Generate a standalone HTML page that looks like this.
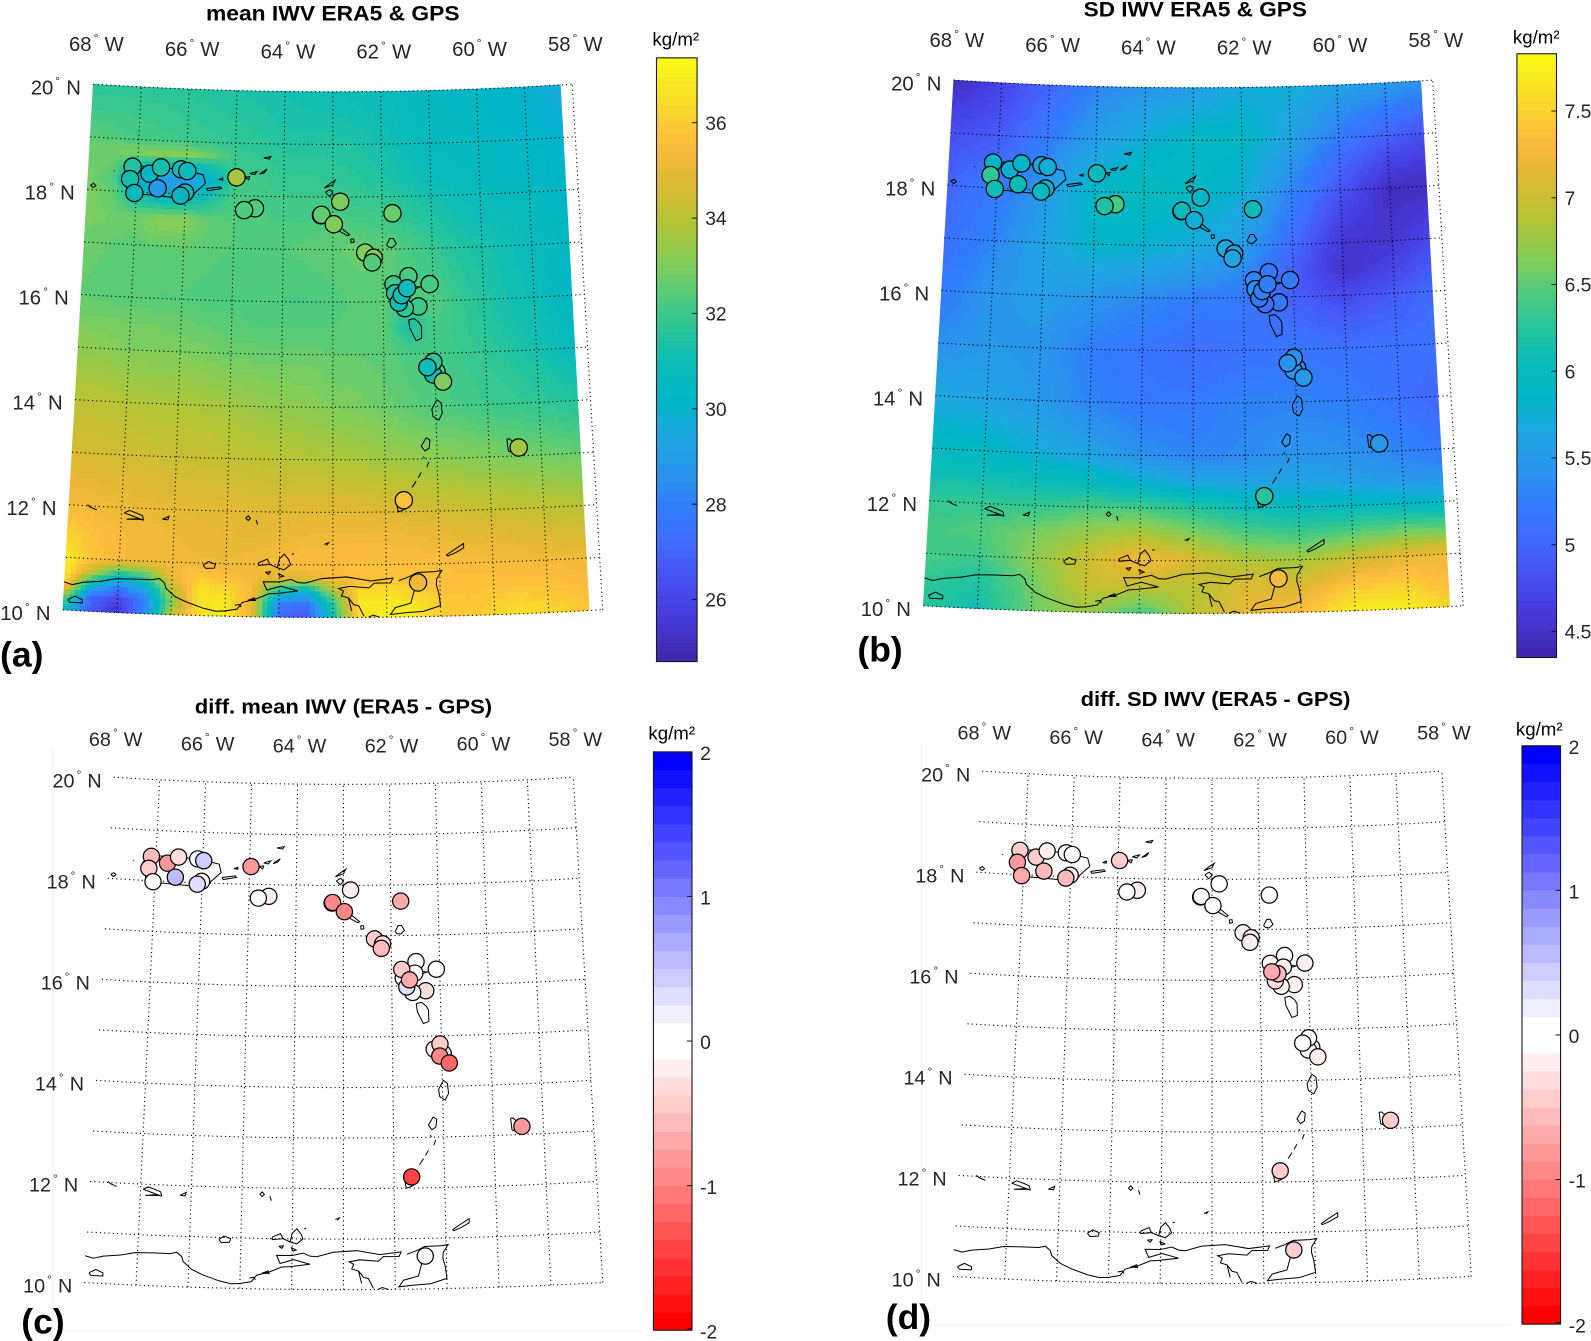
<!DOCTYPE html>
<html lang="en">
<head>
<meta charset="utf-8">
<title>IWV ERA5 and GPS maps</title>
<style>
html,body{margin:0;padding:0;background:#fff;}
svg{display:block;font-family:"Liberation Sans",sans-serif;}
.title{font-weight:bold;fill:#000;text-anchor:middle;}
.letter{font-weight:bold;fill:#000;font-size:35px;}
.tick{fill:#262626;}
</style>
</head>
<body>
<svg id="fig" xmlns="http://www.w3.org/2000/svg" width="1591" height="1341" viewBox="0 0 1591 1341">
<g transform="scale(1.01467)">
  <rect x="0" y="0" width="1568" height="1322" fill="#fff"/>
  <line x1="52" y1="738" x2="52" y2="1312" stroke="#f1f1f1"/>
  <line x1="52" y1="1312" x2="632" y2="1312" stroke="#f1f1f1"/>
  <line x1="908" y1="732" x2="908" y2="1306" stroke="#f1f1f1"/>
  <line x1="908" y1="1306" x2="1488" y2="1306" stroke="#f1f1f1"/>
  <g id="panel-a"></g>
  <g id="panel-b"></g>
  <g id="panel-c"></g>
  <g id="panel-d"></g>
  <text class="title" x="328" y="20" font-size="21" textLength="250" lengthAdjust="spacingAndGlyphs">mean IWV ERA5 &amp; GPS</text>
  <text class="title" x="1178" y="16" font-size="21" textLength="220" lengthAdjust="spacingAndGlyphs">SD IWV ERA5 &amp; GPS</text>
  <text class="title" x="338.5" y="703" font-size="20" textLength="293" lengthAdjust="spacingAndGlyphs">diff. mean IWV (ERA5 - GPS)</text>
  <text class="title" x="1198" y="696" font-size="20" textLength="266" lengthAdjust="spacingAndGlyphs">diff. SD IWV (ERA5 - GPS)</text>
  <text class="letter" x="0" y="657">(a)</text>
  <text class="letter" x="845" y="652">(b)</text>
  <text class="letter" x="21" y="1314">(c)</text>
  <text class="letter" x="873" y="1310">(d)</text>
</g>
</svg>
<script>
// ---------- station data ----------
const stationLon = [-67.10,-67.14,-67.04,-66.75,-66.52,-66.57,-66.11,-65.98,-66.01,-66.10,-64.97,-64.58,-64.80,-62.85,-61.79,-63.24,-63.23,-62.98,-62.35,-62.18,-62.21,-61.49,-61.07,-61.79,-61.76,-61.30,-61.57,-61.69,-61.63,-61.52,-60.97,-61.04,-61.03,-61.15,-60.85,-59.43,-61.65,-61.41];
const stationLat = [18.48,18.24,17.98,18.36,18.49,18.09,18.47,18.44,18.03,17.97,18.35,17.77,17.73,17.91,17.68,17.65,17.66,17.48,16.94,16.84,16.75,16.48,16.32,16.33,16.16,15.90,15.87,15.98,16.12,16.25,14.65,14.60,14.84,14.74,14.46,13.16,12.22,10.65];
const meanIWV    = [31.5,31.2,30.6,30.2,31.2,28.8,31.0,30.8,31.0,30.3,33.7,32.3,32.3,33.0,32.7,32.0,32.6,33.0,33.0,33.2,32.4,32.2,32.2,32.0,31.5,32.0,31.8,31.0,31.2,31.0,32.3,31.0,31.7,30.9,33.0,33.6,35.7,35.2];
const sdIWV      = [5.85,6.3,6.1,5.8,5.85,6.05,5.75,5.75,5.9,5.9,6.05,6.4,6.2,5.85,6.05,6.1,6.0,5.75,5.65,5.65,5.6,5.2,5.2,5.3,5.4,5.2,5.05,5.2,5.25,5.25,5.4,5.4,5.4,5.4,5.5,5.5,6.25,7.25];
const diffMean   = [-0.55,-0.4,0,-0.8,-0.35,0.55,0,0.4,-0.2,0.3,-0.85,-0.2,0,-0.25,-0.65,-1.1,-1.0,-0.9,-0.4,-0.35,-0.6,0,0,-0.4,0,-0.3,0,0.3,-0.75,0,0,-1.0,-0.45,-0.2,-1.15,-0.85,-1.45,0];
const diffSD     = [-0.45,-0.85,-0.65,-0.4,-0.25,-0.6,0,-0.1,-0.25,-0.6,-0.5,-0.25,0,0,-0.12,-0.1,-0.12,0,-0.25,-0.25,-0.2,-0.12,-0.25,-0.25,-0.7,-0.25,0,-0.35,-0.55,-0.25,0,-0.12,0,0,-0.2,-0.4,-0.45,-0.4];
const raiseInDiffMean = [23,28,32,31,34];
const raiseInDiffSD = [28,24];

// ---------- gridded fields ----------
const meanLons = [-68,-67.5,-67,-66.5,-66,-65.5,-65,-64.5,-64,-63.5,-63,-62.5,-62,-61.5,-61,-60.5,-60,-59.5,-59,-58.5,-58.25];
const meanLats = [10,10.25,10.5,10.75,11,11.5,12,13,14,15,15.5,16,17,17.5,18,18.25,18.5,18.75,19,20];
const meanField = [
[30.5,26.5,25.4,28.0,34.0,36.5,36.9,35.0,27.0,26.4,31.0,36.4,37.1,37.0,36.0,35.8,36.2,36.6,36.4,36.0,35.8],
[33.0,27.0,26.0,28.0,33.0,36.7,36.8,35.0,28.0,27.4,31.5,36.8,36.9,36.7,36.0,35.8,36.0,36.2,36.0,35.8,35.6],
[36.3,30.0,28.0,29.5,34.0,36.6,36.4,35.4,31.0,30.0,33.5,36.4,36.4,36.1,35.7,35.7,35.8,35.8,35.7,35.6,35.5],
[36.9,34.0,31.5,32.5,35.2,35.8,35.5,35.3,34.8,34.8,35.4,35.6,35.7,35.7,35.6,35.6,35.6,35.5,35.5,35.4,35.3],
[36.8,35.7,35.4,35.3,35.3,35.2,35.2,35.3,35.5,35.6,35.6,35.6,35.6,35.6,35.6,35.5,35.4,35.4,35.3,35.3,35.2],
[36.2,35.6,35.4,35.3,35.2,35.1,35.0,35.0,35.1,35.2,35.3,35.3,35.3,35.2,35.1,35.0,34.9,34.8,34.7,34.6,34.6],
[35.4,35.3,35.2,35.1,35.0,34.9,34.9,34.8,34.8,34.9,34.9,34.9,34.8,34.7,34.6,34.4,34.3,34.2,34.1,34.0,33.9],
[34.7,34.6,34.5,34.4,34.3,34.3,34.2,34.1,34.0,33.9,33.8,33.7,33.5,33.4,33.2,33.1,33.0,32.9,32.8,32.7,32.6],
[34.0,34.0,33.9,33.8,33.8,33.7,33.6,33.4,33.3,33.2,33.0,32.9,32.7,32.5,32.3,32.2,32.0,31.9,31.8,31.6,31.5],
[33.3,33.2,33.0,33.0,33.0,32.9,32.7,32.7,32.7,32.7,32.6,32.6,32.5,32.3,32.2,32.0,31.8,31.5,31.2,30.9,30.6],
[32.9,32.9,32.8,32.8,32.7,32.6,32.5,32.4,32.4,32.4,32.4,32.5,32.5,31.2,32.2,31.9,31.6,31.3,31.1,30.7,30.4],
[32.6,32.5,32.5,32.4,32.4,32.3,32.3,32.3,32.2,32.2,32.3,32.5,32.5,32.2,32.4,31.9,31.5,31.2,31.0,30.5,30.2],
[32.7,32.6,32.5,32.6,32.6,32.5,32.4,32.4,32.4,32.5,32.6,32.7,32.6,32.3,31.9,31.5,31.3,31.1,30.8,30.5,30.2],
[32.9,32.8,32.8,33.2,33.2,32.6,32.4,32.3,32.2,32.2,32.4,32.2,32.1,31.8,31.5,31.2,31.0,30.9,30.7,30.4,30.2],
[33.0,32.6,31.0,30.0,30.0,31.2,32.2,32.2,32.0,32.0,32.0,31.9,31.8,31.5,31.2,31.0,30.9,30.7,30.6,30.3,30.2],
[32.9,32.3,29.8,28.8,28.8,30.0,32.0,32.1,31.9,31.9,31.8,31.7,31.5,31.2,30.9,30.7,30.6,30.5,30.4,30.2,30.1],
[32.8,32.6,31.0,30.2,30.0,31.0,32.0,32.0,31.8,31.8,31.7,31.6,31.4,31.1,30.8,30.7,30.6,30.4,30.3,30.2,30.1],
[32.7,32.8,32.9,33.2,33.2,32.7,32.0,31.8,31.7,31.7,31.6,31.5,31.3,31.0,30.7,30.6,30.5,30.4,30.3,30.2,30.1],
[32.5,32.4,32.2,32.1,32.0,31.9,31.8,31.7,31.5,31.5,31.5,31.4,31.2,30.9,30.6,30.5,30.4,30.3,30.2,30.1,30.0],
[31.6,31.7,31.7,31.7,31.6,31.5,31.4,31.3,31.2,31.1,31.0,30.9,30.8,30.6,30.5,30.4,30.3,30.1,30.0,29.7,29.5]
];
const sdLons = [-68,-67,-66,-65,-64,-63,-62,-61,-60,-59,-58.25];
const sdLats = [10,10.5,11,11.5,12,12.5,13,14,15,16,16.5,17,18,19,20];
const sdField = [
[6.25,6.1,6.55,6.75,6.35,6.9,7.2,7.35,7.75,7.75,7.5],
[6.3,6.2,6.55,7.0,6.95,6.9,7.1,7.1,7.4,7.45,7.3],
[6.4,6.35,6.7,7.0,7.3,7.1,6.85,6.8,7.0,7.2,7.25],
[6.4,6.45,6.6,6.75,6.85,6.65,6.45,6.35,6.45,6.55,6.5],
[6.3,6.3,6.3,6.4,6.4,6.25,6.05,6.0,5.95,5.9,5.85],
[6.1,6.1,6.05,5.95,5.8,5.6,5.6,5.6,5.55,5.45,5.4],
[5.95,5.9,5.75,5.6,5.4,5.3,5.35,5.45,5.4,5.3,5.2],
[5.65,5.6,5.5,5.3,5.2,5.2,5.3,5.3,5.25,5.1,5.0],
[5.4,5.5,5.45,5.25,5.15,5.05,5.1,5.15,5.1,5.1,5.1],
[5.2,5.45,5.55,5.45,5.35,5.25,5.2,4.95,4.75,4.9,5.05],
[5.15,5.4,5.6,5.65,5.6,5.5,5.35,4.95,4.5,4.7,4.9],
[5.1,5.3,5.6,5.85,5.8,5.7,5.55,5.05,4.55,4.55,4.75],
[5.0,5.2,5.5,5.9,6.0,5.9,5.75,5.3,4.85,4.45,4.45],
[4.8,4.9,5.2,5.55,5.75,5.9,5.9,5.6,5.2,4.95,4.8],
[4.45,4.7,5.0,5.3,5.45,5.55,5.7,5.75,5.6,5.5,5.45]
];

// ---------- tick labels ----------
const gratLons = [-67,-66,-65,-64,-63,-62,-61,-60,-59,-58];
const gratLats = [10,11,12,13,14,15,16,17,18,19,20];
const lonLabels = [68,66,64,62,60,58];
const latLabels = [20,18,16,14,12,10];
const meanTicks = [36,34,32,30,28,26];
const sdTicks = [7.5,7,6.5,6,5.5,5,4.5];
const diffTicks = [2,1,0,-1,-2];

// ---------- coastlines (lon, lat) ----------
const coastlines = [
[[-68.01,10.53],[-67.85,10.49],[-67.66,10.54],[-67.33,10.58],[-67.05,10.64],[-66.69,10.65],[-66.37,10.65],[-66.24,10.68],[-66.14,10.60],[-66.11,10.50],[-65.94,10.35],[-65.72,10.25],[-65.4,10.14],[-65.17,10.09],[-65.0,10.10],[-64.78,10.14],[-64.68,10.27],[-64.43,10.34],[-64.2,10.44],[-64.04,10.45],[-63.65,10.5],[-63.97,10.59],[-64.23,10.51],[-64.3,10.67],[-64.0,10.67],[-63.78,10.72],[-63.65,10.66],[-63.52,10.65],[-63.2,10.74],[-62.74,10.77],[-62.29,10.69],[-61.88,10.74],[-61.92,10.65],[-62.23,10.65],[-62.32,10.56],[-62.68,10.59],[-62.89,10.55],[-62.8,10.5],[-62.84,10.41],[-62.71,10.37],[-62.65,10.12]],
[[-62.71,10.37],[-62.61,10.24],[-62.52,10.22],[-62.42,10.02]],
[[-62.34,10.0],[-62.25,10.04],[-62.13,10.0]],
[[-64.82,10.21],[-64.74,10.23],[-64.7,10.18]],
[[-64.58,10.31],[-64.46,10.36],[-64.44,10.31],[-64.58,10.31]],
[[-61.77,10.69],[-61.58,10.76],[-61.42,10.84],[-61.1,10.85],[-60.96,10.87],[-61.06,10.71],[-61.07,10.6],[-61.03,10.45],[-61.0,10.2],[-61.32,10.1],[-61.64,10.08],[-61.93,10.05],[-61.84,10.18],[-61.55,10.26],[-61.48,10.51],[-61.5,10.68],[-61.55,10.72]],
[[-60.87,11.16],[-60.7,11.27],[-60.54,11.37],[-60.54,11.29],[-60.7,11.2],[-60.84,11.14],[-60.87,11.16]],
[[-64.39,11.03],[-64.23,11.1],[-64.18,11.0],[-64.39,10.98],[-64.39,11.03]],
[[-64.18,11.0],[-64.04,10.94],[-64.0,11.11],[-63.91,11.2],[-63.83,11.1],[-63.79,11.0],[-63.91,10.9],[-64.04,10.94]],
[[-64.26,10.85],[-64.17,10.86],[-64.2,10.81],[-64.26,10.85]],
[[-64.02,10.83],[-63.92,10.78],[-63.98,10.76],[-64.02,10.83]],
[[-63.77,11.2],[-63.73,11.21]],
[[-65.43,10.96],[-65.33,11.03],[-65.2,10.98],[-65.22,10.91],[-65.38,10.9],[-65.43,10.96]],
[[-67.92,10.2],[-67.79,10.27],[-67.65,10.21],[-67.65,10.15],[-67.88,10.15],[-67.92,10.2]],
[[-66.95,11.9],[-66.85,11.95],[-66.7,11.9],[-66.6,11.86],[-66.58,11.78],[-66.7,11.8],[-66.9,11.78],[-66.62,11.79],[-66.8,11.85],[-66.95,11.9]],
[[-67.65,12.02],[-67.6,11.98],[-67.47,11.93]],
[[-66.22,11.81],[-66.1,11.87],[-66.12,11.8],[-66.22,11.81]],
[[-64.65,11.87],[-64.6,11.92],[-64.56,11.87],[-64.6,11.83],[-64.65,11.87]],
[[-64.45,11.84],[-64.42,11.75]],
[[-63.16,11.39],[-63.08,11.42],[-63.12,11.37]],
[[-67.27,18.36],[-67.15,18.5],[-66.6,18.49],[-66.1,18.47],[-65.65,18.38],[-65.6,18.22],[-65.85,18.0],[-66.2,17.93],[-66.8,17.96],[-67.2,17.95],[-67.2,18.15],[-67.27,18.36]],
[[-65.58,18.12],[-65.3,18.16],[-65.27,18.13],[-65.55,18.08],[-65.58,18.12]],
[[-65.33,18.3],[-65.25,18.33],[-65.25,18.29],[-65.33,18.3]],
[[-67.94,18.08],[-67.88,18.12],[-67.83,18.08],[-67.88,18.04],[-67.94,18.08]],
[[-67.48,18.38],[-67.46,18.38]],
[[-65.03,18.35],[-64.85,18.37],[-64.85,18.32],[-65.03,18.35]],
[[-64.8,18.36],[-64.7,18.37],[-64.72,18.31],[-64.8,18.36]],
[[-64.7,18.43],[-64.55,18.47],[-64.6,18.41],[-64.7,18.43]],
[[-64.5,18.42],[-64.35,18.52],[-64.4,18.45],[-64.5,18.42]],
[[-64.42,18.73],[-64.27,18.76],[-64.3,18.71],[-64.42,18.73]],
[[-64.9,17.72],[-64.58,17.77],[-64.58,17.74],[-64.85,17.68],[-64.9,17.72]],
[[-63.17,18.17],[-63.05,18.26],[-62.95,18.32],[-63.0,18.23],[-63.17,18.17]],
[[-63.15,18.09],[-63.06,18.14],[-63.0,18.08],[-63.07,18.01],[-63.15,18.09]],
[[-62.88,17.92],[-62.79,17.92],[-62.82,17.88],[-62.88,17.92]],
[[-62.9,17.42],[-62.83,17.41],[-62.66,17.28],[-62.7,17.26],[-62.85,17.34],[-62.9,17.42]],
[[-62.64,17.2],[-62.58,17.2],[-62.57,17.14],[-62.63,17.13],[-62.64,17.2]],
[[-61.92,17.08],[-61.85,17.2],[-61.78,17.2],[-61.72,17.1],[-61.8,17.03],[-61.88,17.04],[-61.92,17.08]],
[[-62.23,16.78],[-62.15,16.8],[-62.15,16.7],[-62.2,16.68],[-62.23,16.78]],
[[-61.8,16.3],[-61.75,16.35],[-61.55,16.3],[-61.25,16.27],[-61.5,16.2],[-61.58,16.0],[-61.75,16.0],[-61.8,16.3]],
[[-61.5,15.65],[-61.39,15.67],[-61.3,15.6],[-61.25,15.52],[-61.25,15.29],[-61.36,15.25],[-61.42,15.37],[-61.48,15.49],[-61.5,15.65]],
[[-61.22,14.88],[-61.0,14.88],[-60.82,14.5],[-60.95,14.4],[-61.15,14.55],[-61.22,14.88]],
[[-60.98,14.12],[-60.9,14.06],[-60.88,13.86],[-60.95,13.73],[-61.06,13.8],[-61.08,13.94],[-60.98,14.12]],
[[-61.2,13.4],[-61.13,13.35],[-61.15,13.2],[-61.23,13.15],[-61.3,13.24],[-61.2,13.4]],
[[-61.27,13.04],[-61.24,13.01]],
[[-61.16,12.94],[-61.2,12.84]],
[[-61.31,12.74],[-61.37,12.64]],
[[-61.41,12.58],[-61.49,12.46]],
[[-61.8,12.22],[-61.62,12.23],[-61.62,12.05],[-61.76,12.0],[-61.8,12.22]],
[[-59.65,13.33],[-59.6,13.33],[-59.43,13.17],[-59.53,13.05],[-59.63,13.1],[-59.65,13.33]]
];

// ---------- helpers ----------
const NS = 'http://www.w3.org/2000/svg';
function make(tag, attrs, parent){
  const n = document.createElementNS(NS, tag);
  for (const k in attrs) n.setAttribute(k, attrs[k]);
  if (parent) parent.appendChild(n);
  return n;
}
const parulaStops = [
 [0,.2422,.1504,.6603],[.079,.2751,.2342,.871],[.143,.281,.3228,.9579],[.206,.244,.4358,.9988],
 [.254,.1963,.4847,.9892],[.302,.1687,.5703,.9359],[.381,.1113,.6635,.8763],[.43,.0,.71,.78],
 [.5,.05,.74,.71],[.55,.16,.77,.6],[.6,.3,.795,.5],[.66,.51,.805,.35],[.73,.71,.765,.2],
 [.8,.88,.725,.2],[.86,.99,.74,.24],[.92,.97,.85,.17],[1,.9769,.9839,.0805]
];
function parula(t){
  for (let i = 1; i < parulaStops.length; i++){
    if (t <= parulaStops[i][0]){
      const a = parulaStops[i-1], b = parulaStops[i], f = (t-a[0])/(b[0]-a[0]);
      return 'rgb(' + [1,2,3].map(j => Math.round(255*(a[j]+(b[j]-a[j])*f))).join(',') + ')';
    }
  }
  return 'rgb(249,251,21)';
}
function divergingLevel(i){ // 0..31 from bottom (red) to top (blue)
  if (i >= 16){ const k = Math.round(255*(31-i)/15); return 'rgb('+k+','+k+',255)'; }
  const k = Math.round(255*i/15); return 'rgb(255,'+k+','+k+')';
}
function diffColor(v){
  return divergingLevel(Math.max(0, Math.min(31, Math.floor((v+2)/4*32))));
}
function projector(p){
  return function(lon, lat){
    const u = (lon+63)/5, v = (lat-10)/10;
    return [p.cx + u*(p.wb + (p.wt-p.wb)*v), p.y0 - p.H*v + p.sag*(1-u*u)];
  };
}
function interp(arr, x){
  let i = 0;
  while (i < arr.length-2 && x > arr[i+1]) i++;
  return [i, (x-arr[i])/(arr[i+1]-arr[i])];
}
function drawHeat(g, proj, lons, lats, field, cmin, cmax){
  const n = 64, ds = Array.from({length:n}, () => []);
  const dLon = 0.1, dLat = 0.1;
  const lon0 = lons[0], lon1 = lons[lons.length-1], lat0 = lats[0], lat1 = lats[lats.length-1];
  const sample = (lo, la) => {
    const a = interp(lons, lo), b = interp(lats, la);
    const r0 = field[b[0]], r1 = field[b[0]+1];
    const t0 = r0[a[0]]+(r0[a[0]+1]-r0[a[0]])*a[1];
    const t1 = r1[a[0]]+(r1[a[0]+1]-r1[a[0]])*a[1];
    return t0+(t1-t0)*b[1];
  };
  const nx = Math.ceil((lon1-lon0)/dLon), ny = Math.ceil((lat1-lat0)/dLat);
  for (let i = 0; i < nx; i++){
    const a = lon0+(lon1-lon0)*i/nx, b = lon0+(lon1-lon0)*(i+1)/nx;
    for (let j = 0; j < ny; j++){
      const c = lat0+(lat1-lat0)*j/ny, d = lat0+(lat1-lat0)*(j+1)/ny;
      const val = sample((a+b)/2, (c+d)/2);
      const lev = Math.max(0, Math.min(n-1, Math.floor((val-cmin)/(cmax-cmin)*n)));
      const p = [proj(a,c),proj(b,c),proj(b,d),proj(a,d)];
      ds[lev].push('M'+p.map(q => q[0].toFixed(1)+' '+q[1].toFixed(1)).join('L')+'Z');
    }
  }
  ds.forEach((d, lev) => {
    if (!d.length) return;
    const col = parula((lev+.5)/n);
    const path = make('path', {d:d.join(''), fill:col, stroke:col, 'stroke-width':0.7}, g);
    
    
  });
}
function drawGraticule(g, proj){
  const style = {fill:'none', stroke:'#000', 'stroke-width':1.1, 'stroke-dasharray':'1.1 3.1'};
  gratLats.forEach(lat => {
    const pts = [];
    for (let k = 0; k <= 50; k++){ const q = proj(-68+10*k/50, lat); pts.push(q[0].toFixed(1)+','+q[1].toFixed(1)); }
    const line = make('polyline', Object.assign({points:pts.join(' ')}, style), g);
    
    
  });
  gratLons.forEach(lon => {
    const a = proj(lon,10), b = proj(lon,20);
    const line = make('line', Object.assign({x1:a[0],y1:a[1],x2:b[0],y2:b[1]}, style), g);
    
    
  });
}
function drawCoast(g, proj){
  coastlines.forEach(c => {
    const pts = c.map(q => { const r = proj(q[0],q[1]); return r[0].toFixed(1)+','+r[1].toFixed(1); }).join(' ');
    const line = make('polyline', {points:pts, fill:'none', stroke:'#000', 'stroke-width':1}, g);
    
    
  });
}
function drawStations(g, proj, values, colorOf, r, raise){
  const nodes = [];
  stationLon.forEach((lon, i) => {
    const q = proj(lon, stationLat[i]);
    const c = make('circle', {cx:q[0].toFixed(1), cy:q[1].toFixed(1), r:r, fill:colorOf(values[i]), stroke:'#000', 'stroke-width':1.2}, g);
    
    
    nodes.push(c);
  });
  (raise || []).forEach(i => g.appendChild(nodes[i]));
}
function geoLabel(g, cx, baseline, num, hemi, fs){
  const t = make('text', {x:cx, y:baseline, 'text-anchor':'middle', 'font-size':fs, class:'tick'}, g);
  t.appendChild(document.createTextNode(String(num)));
  const deg = make('tspan', {dy:-9, dx:2, 'font-size':fs*0.6}, t);
  deg.textContent = '°';
  const h = make('tspan', {dy:9, dx:6}, t);
  h.textContent = hemi;
  
  
}
function drawLabels(g, proj, topUp, dxTop, dxLeft, fs){
  lonLabels.forEach(d => {
    const q = proj(-d, 20);
    geoLabel(g, q[0]+dxTop, q[1]-topUp+7, d, 'W', fs);
  });
  latLabels.forEach(d => {
    const q = proj(-68, d);
    geoLabel(g, q[0]-dxLeft, q[1]+10, d, 'N', fs);
  });
}
function drawColorbar(g, cb, levelColor, nLevels, ticks, unitX, unitY, labelDy){
  const yOf = v => cb.yBot + (v-cb.min)/(cb.max-cb.min)*(cb.yTop-cb.yBot);
  for (let i = 0; i < nLevels; i++){
    const y1 = cb.yBot + (cb.yTop-cb.yBot)*(i+1)/nLevels, y0 = cb.yBot + (cb.yTop-cb.yBot)*i/nLevels;
    const r = make('rect', {x:cb.x, y:y1-0.3, width:cb.w, height:(y0-y1)+0.6, fill:levelColor(i)}, g);
    
    
  }
  const box = make('rect', {x:cb.x, y:cb.yTop, width:cb.w, height:cb.yBot-cb.yTop, fill:'none', stroke:'#1a1a1a', 'stroke-width':1.1}, g);
  
  
  ticks.forEach(v => {
    const y = Math.max(cb.yTop+1.5, Math.min(cb.yBot-1.5, yOf(v)));
    const tk = make('line', {x1:cb.x+cb.w-5, x2:cb.x+cb.w, y1:y, y2:y, stroke:'#1a1a1a', 'stroke-width':1}, g);
    
    
    const tx = make('text', {x:cb.x+cb.w+8, y:yOf(v)+7+labelDy, 'font-size':19, class:'tick'}, g);
    tx.textContent = String(v);
    
    
  });
  const u = make('text', {x:unitX, y:unitY, 'font-size':18, 'text-anchor':'middle', fill:'#000', textLength:46, lengthAdjust:'spacingAndGlyphs'}, g);
  u.textContent = 'kg/m²';
  
  
}

// ---------- panels ----------
const geoTop = {wb:266, wt:236, H:518, sag:7.5};
const geoBottom = {wb:255.5, wt:226.5, H:498, sag:7};
const pA = projector(Object.assign({cx:328, y0:601}, geoTop));
const pB = projector(Object.assign({cx:1176, y0:597}, geoTop));
const pC = projector(Object.assign({cx:338.5, y0:1264}, geoBottom));
const pD = projector(Object.assign({cx:1194.5, y0:1258}, geoBottom));
const meanClim = [24.7, 37.36], sdClim = [4.35, 7.83];
const gA = document.getElementById('panel-a'), gB = document.getElementById('panel-b');
const gC = document.getElementById('panel-c'), gD = document.getElementById('panel-d');

drawHeat(gA, pA, meanLons, meanLats, meanField, meanClim[0], meanClim[1]);
drawGraticule(gA, pA); drawCoast(gA, pA);
drawStations(gA, pA, meanIWV, v => parula((v-meanClim[0])/(meanClim[1]-meanClim[0])), 8.5);
drawLabels(gA, pA, 39.5, 3, 37, 20);
drawColorbar(gA, {x:647,w:40,yTop:57,yBot:652,min:meanClim[0],max:meanClim[1]}, i => parula((i+.5)/64), 64, meanTicks, 666, 45, 0);

drawHeat(gB, pB, sdLons, sdLats, sdField, sdClim[0], sdClim[1]);
drawGraticule(gB, pB); drawCoast(gB, pB);
drawStations(gB, pB, sdIWV, v => parula((v-sdClim[0])/(sdClim[1]-sdClim[0])), 8.5);
drawLabels(gB, pB, 39.5, 3, 37, 20);
drawColorbar(gB, {x:1495,w:39,yTop:53,yBot:648,min:sdClim[0],max:sdClim[1]}, i => parula((i+.5)/64), 64, sdTicks, 1514, 43, 0);

drawGraticule(gC, pC); drawCoast(gC, pC);
drawStations(gC, pC, diffMean, diffColor, 8, raiseInDiffMean);
drawLabels(gC, pC, 38, 2, 36, 19.5);
drawColorbar(gC, {x:644,w:38,yTop:741,yBot:1311,min:-2,max:2}, divergingLevel, 32, diffTicks, 662, 729, 1);

drawGraticule(gD, pD); drawCoast(gD, pD);
drawStations(gD, pD, diffSD, diffColor, 8, raiseInDiffSD);
drawLabels(gD, pD, 38, 2, 36, 19.5);
drawColorbar(gD, {x:1500,w:38,yTop:735,yBot:1305,min:-2,max:2}, divergingLevel, 32, diffTicks, 1517, 725, 1);
</script>
</body>
</html>
